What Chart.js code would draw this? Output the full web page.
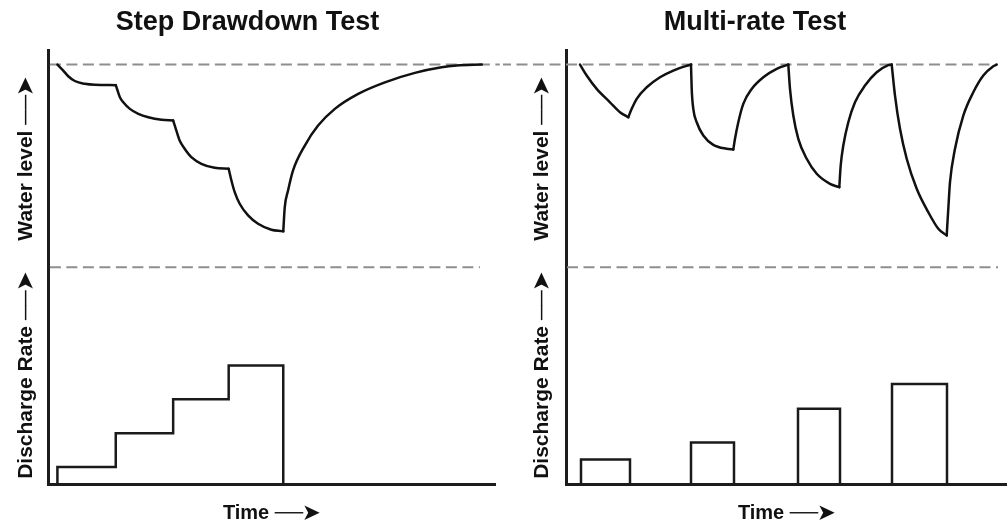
<!DOCTYPE html>
<html>
<head>
<meta charset="utf-8">
<script src="https://cdn.jsdelivr.net/npm/chart.js@4/dist/chart.umd.min.js"></script>
<style>
  html, body { margin: 0; padding: 0; background: #ffffff; }
  #wrap { position: relative; width: 1007px; height: 524px; overflow: hidden; }
  canvas { position: absolute; top: 0; }
  #c1 { left: 0; }
  #c2 { left: 503px; }
</style>
</head>
<body>
<div id="wrap">
  <canvas id="c1" width="503" height="524"></canvas>
  <canvas id="c2" width="504" height="524"></canvas>
</div>
<script>
// ---- Step drawdown test (time in h, drawdown in m, discharge in L/s) ----
const stepTimes = [1, 7.2, 13.3, 19.2, 25];     // rate changes; last = pump off
const stepRates = [1, 3, 5, 7];
const stepLevelT = [1, 1.62, 2.15, 2.85, 3.91, 4.98, 7.2,
                    7.39, 7.64, 8.0, 8.70, 9.60, 10.66, 12.07, 13.3,
                    13.64, 13.99, 14.52, 15.23, 16.30, 17.71, 19.2,
                    19.49, 19.84, 20.37, 21.26, 22.32, 23.74, 24.81, 25,
                    25.16, 25.51, 26.04, 27.29, 28.70, 30.48, 32.96, 35.80, 38.99, 41.83, 43.43, 46.1];
const stepLevelD = [0, 0.59, 1.15, 1.62, 1.90, 2.0, 2.03,
                    2.56, 3.22, 3.72, 4.37, 4.86, 5.20, 5.45, 5.52,
                    6.51, 7.50, 8.31, 9.14, 9.79, 10.19, 10.29,
                    11.44, 12.59, 13.74, 14.89, 15.71, 16.30, 16.44, 16.46,
                    14.07, 12.43, 10.45, 7.99, 6.02, 4.37, 2.89, 1.75, 0.82, 0.27, 0.10, 0];

// ---- Multi-rate test ----
const pulseStart = [1.5, 12.5, 23.2, 32.6];
const pulseEnd   = [6.4, 16.8, 27.4, 38.1];
const pulseRates = [1.45, 2.45, 4.45, 5.9];
const multiTurns = [6.23, 12.5, 16.73, 22.23, 27.33, 32.57, 38.07];
const multiLevelT = [1.4, 2.07, 3.07, 4.4, 5.4, 6.23,
                     6.57, 7.07, 8.07, 9.4, 10.73, 12.07, 12.5,
                     12.57, 12.73, 13.07, 13.73, 14.73, 16.07, 16.73,
                     16.9, 17.23, 17.73, 18.57, 19.73, 21.07, 22.23,
                     22.4, 22.73, 23.23, 24.07, 25.07, 26.4, 27.33,
                     27.47, 27.73, 28.23, 28.9, 29.9, 31.07, 32.23, 32.57,
                     32.9, 33.4, 34.07, 35.07, 36.23, 37.23, 38.07,
                     38.23, 38.4, 38.9, 39.73, 40.73, 41.73, 42.73, 43.07];
const multiLevelD = [0, 1.08, 2.40, 3.72, 4.70, 5.20,
                     4.37, 3.38, 2.24, 1.25, 0.59, 0.12, 0,
                     2.40, 4.37, 5.69, 7.0, 7.92, 8.31, 8.38,
                     7.33, 5.69, 3.88, 2.40, 1.25, 0.42, 0,
                     2.40, 5.03, 7.33, 9.30, 10.78, 11.77, 12.10,
                     9.96, 7.99, 5.69, 3.72, 2.07, 0.76, 0.05, 0,
                     3.06, 6.34, 9.30, 12.26, 14.57, 16.20, 16.86,
                     14.23, 11.61, 8.31, 5.03, 2.73, 1.08, 0.17, 0];

const staticLevel = 0;   // drawdown of the undisturbed water table
const levelFloor = 20;   // lower limit of the water-level window

const INK = '#111111';
const AXIS = '#1c1c1c';
const DASH = '#8e8e8e';
const FONT = "'Liberation Sans', Arial, Helvetica, sans-serif";
Chart.defaults.font.family = FONT;
Chart.defaults.color = INK;

// split a curve into pieces at the times where pumping changes (keeps sharp corners)
function splitCurve(ts, ds, breaks) {
  const pieces = [];
  let cur = [];
  ts.forEach((t, i) => {
    const p = { x: t, y: ds[i] };
    cur.push(p);
    if (breaks.includes(t) && cur.length > 1) { pieces.push(cur); cur = [p]; }
  });
  if (cur.length > 1) pieces.push(cur);
  return pieces;
}

function curveSets(pieces) {
  return pieces.map(pts => ({
    data: pts, yAxisID: 'wl', borderColor: INK, borderWidth: 2.5,
    cubicInterpolationMode: 'monotone', pointRadius: 0, fill: false,
    borderCapStyle: 'round', borderJoinStyle: 'round'
  }));
}

function dashedSet(x0, x1, y) {
  return {
    data: [{ x: x0, y: y }, { x: x1, y: y }], yAxisID: 'wl',
    borderColor: DASH, borderWidth: 2, borderDash: [11, 5.5],
    pointRadius: 0, tension: 0, clip: false
  };
}

function axisTitle(text, padTop) {
  return { display: true, text: text, color: INK,
           font: { size: 21, weight: 'bold', family: FONT },
           padding: { top: padTop, bottom: 0 } };
}

function makePanel(id, o) {
  const hide = { display: false };
  return new Chart(document.getElementById(id), {
    type: 'line',
    data: { datasets: o.datasets },
    options: {
      responsive: false, animation: false, events: [],
      layout: { padding: { left: 0, right: o.padRight, top: 0, bottom: 0 } },
      plugins: {
        legend: hide, tooltip: { enabled: false },
        title: { display: true, text: o.title, color: INK,
                 font: { size: 27, weight: 'bold', family: FONT },
                 padding: { top: 6, bottom: 12 } }
      },
      scales: {
        x: {
          type: 'linear', position: 'bottom', min: 0, max: o.xMax,
          grid: hide, ticks: hide,
          border: { display: true, color: AXIS, width: 3 },
          title: { display: true, text: 'Time ──➤', color: INK,
                   font: { size: 20, weight: 'bold', family: FONT, lineHeight: 1.1 },
                   padding: { top: 0, bottom: 0 } },
          afterFit: s => { s.height = 40; }
        },
        q: {
          type: 'linear', position: 'left', stack: 'panel', stackWeight: 1,
          min: 0, max: 12.8, grid: hide, ticks: hide,
          border: { display: true, color: AXIS, width: 3 },
          title: axisTitle('Discharge Rate ──➤', o.titlePad),
          afterFit: s => { s.width = o.axisWidth; }
        },
        wl: {
          type: 'linear', position: 'left', stack: 'panel', stackWeight: 1,
          reverse: true, min: -1.4, max: levelFloor, grid: hide, ticks: hide,
          border: { display: true, color: AXIS, width: 3 },
          title: axisTitle('Water level ──➤', o.titlePad),
          afterFit: s => { s.width = o.axisWidth; }
        }
      }
    }
  });
}

// ---- left panel ----
const stepPts = [{ x: stepTimes[0], y: 0 }];
stepRates.forEach((r, i) => stepPts.push({ x: stepTimes[i], y: r }));
stepPts.push({ x: stepTimes[stepTimes.length - 1], y: 0 });

makePanel('c1', {
  title: 'Step Drawdown Test', xMax: 47.5, padRight: 8, axisWidth: 48, titlePad: 14,
  datasets: [
    ...curveSets(splitCurve(stepLevelT, stepLevelD, stepTimes)),
    { data: stepPts, yAxisID: 'q', stepped: 'before', borderColor: '#1a1a1a',
      borderWidth: 2.5, pointRadius: 0, fill: false },
    dashedSet(0.2, 48.0, staticLevel),
    dashedSet(0.2, 45.9, levelFloor)
  ]
});

// ---- right panel ----
const pulseSets = pulseStart.map((t0, i) => ({
  data: [{ x: t0, y: 0 }, { x: t0, y: pulseRates[i] },
         { x: pulseEnd[i], y: pulseRates[i] }, { x: pulseEnd[i], y: 0 }],
  yAxisID: 'q', borderColor: '#1a1a1a', borderWidth: 2.5, pointRadius: 0,
  tension: 0, fill: false
}));

makePanel('c2', {
  title: 'Multi-rate Test', xMax: 44.1, padRight: 0, axisWidth: 63, titlePad: 27,
  datasets: [
    ...curveSets(splitCurve(multiLevelT, multiLevelD, multiTurns)),
    ...pulseSets,
    dashedSet(-6.6, 43.1, staticLevel),
    dashedSet(0.1, 43.2, levelFloor)
  ]
});
</script>
</body>
</html>
